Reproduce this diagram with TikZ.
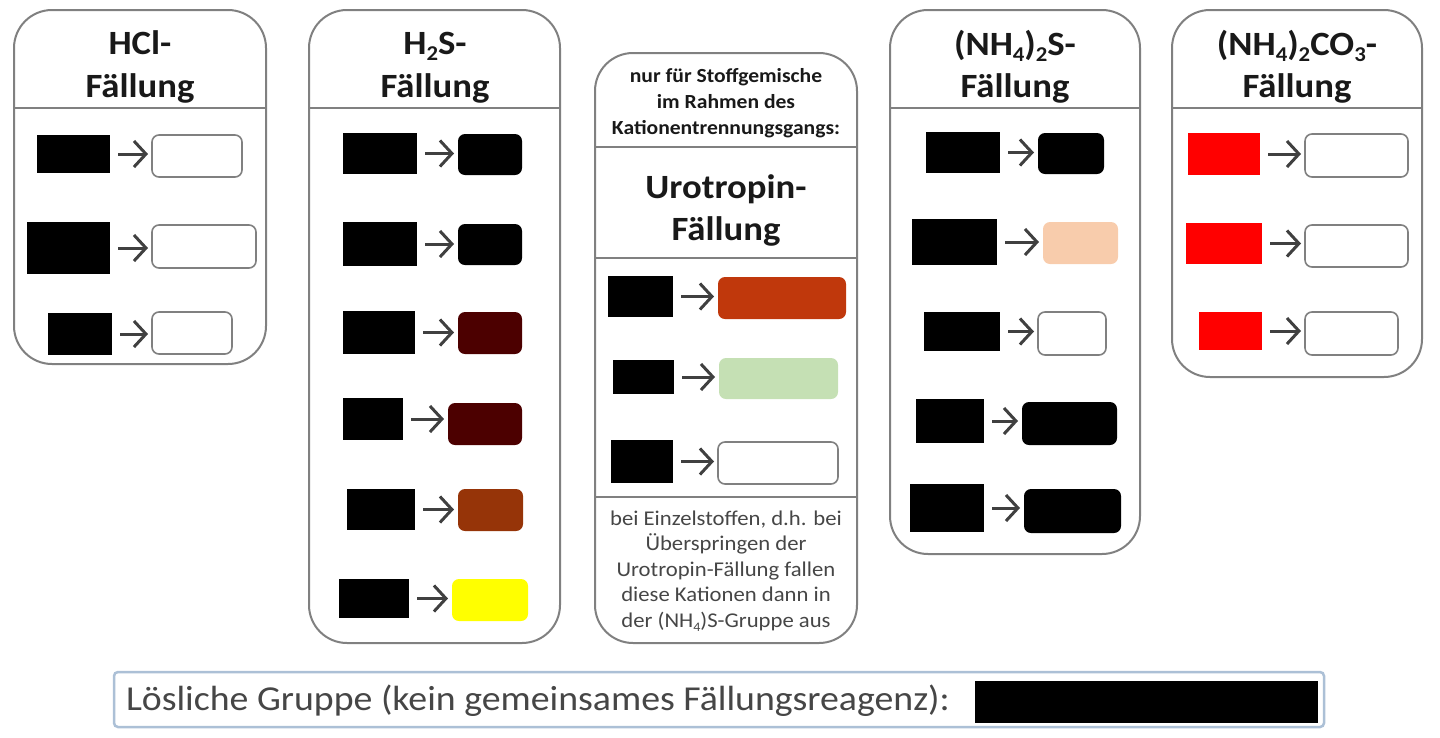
\documentclass[tikz,border=0pt]{standalone}
\usepackage{fontspec}
\setmainfont{Carlito}[FakeStretch=1.08]
\usetikzlibrary{arrows.meta}
\definecolor{bordergray}{RGB}{128,128,128}
\definecolor{arrowgray}{RGB}{64,64,64}
\definecolor{txtdark}{RGB}{25,25,25}
\definecolor{txtgray}{RGB}{70,70,70}
\definecolor{maroon}{RGB}{76,0,0}
\definecolor{brownres}{RGB}{150,52,8}
\definecolor{yellowres}{RGB}{255,255,0}
\definecolor{orangered}{RGB}{192,56,12}
\definecolor{lightgreen}{RGB}{197,224,180}
\definecolor{peach}{RGB}{248,204,172}
\definecolor{redsrc}{RGB}{255,0,0}
\definecolor{barborder}{RGB}{172,192,214}
\newcommand\mybox[6]{\node[#2, minimum width={(#5-#3)*1pt}, minimum height={(#6-#4)*1pt}] (#1) at ({(#3+#5)/2},{(#4+#6)/2}) {};}
\newcommand\connect[2]{\draw[arr] (#1.east) -- (#1.east -| #2.west);}
\newcommand\chsub[1]{\raisebox{-0.2em}{\scalebox{0.62}{#1}}}
\tikzset{
  every node/.style={inner sep=0pt, outer sep=0pt},
  outerbox/.style={draw=bordergray, line width=2pt, rounded corners=38pt},
  divider/.style={draw=bordergray, line width=1.6pt},
  src/.style={fill=black},
  srcred/.style={fill=redsrc},
  res/.style={rounded corners=7pt, line width=1.6pt},
  reswhite/.style={res, draw=bordergray, fill=white},
  resfill/.style={res, fill=#1},
  arr/.style={draw=arrowgray, line width=3pt, -{Straight Barb[length=12pt, width=26pt]}, shorten <=8pt, shorten >=4pt},
  ttl/.style={anchor=base, text=txtdark, font=\bfseries\fontsize{34}{40}\selectfont},
  small/.style={anchor=base, text=txtdark, font=\bfseries\fontsize{20}{24}\selectfont},
  note/.style={anchor=base, text=txtgray, font=\fontsize{21}{25}\selectfont},
}
\begin{document}
\begin{tikzpicture}[x=1pt, y=-1pt]
\useasboundingbox (0,0) rectangle (1440,737);

% ---------------- HCl ----------------
\mybox{hcl}{outerbox}{14}{10}{266}{364}
\draw[divider] (14,108) -- (266,108);
\node[ttl] (hclT1) at (140,54) {HCl-};
\node[ttl] (hclT2) at (140,97) {Fällung};
\mybox{hclAs}{src}{37}{135}{110}{173}
\mybox{hclAr}{reswhite}{152}{135}{242}{177}
\connect{hclAs}{hclAr}
\mybox{hclBs}{src}{27}{222}{110}{274}
\mybox{hclBr}{reswhite}{152}{225}{256}{268}
\connect{hclBs}{hclBr}
\mybox{hclCs}{src}{48}{313}{112}{355}
\mybox{hclCr}{reswhite}{152}{312}{232}{354}
\connect{hclCs}{hclCr}

% ---------------- H2S ----------------
\mybox{hs}{outerbox}{309}{10}{560}{643}
\draw[divider] (309,108) -- (560,108);
\node[ttl] (hsT1) at (435,54) {H\chsub{2}S-};
\node[ttl] (hsT2) at (435,97) {Fällung};
\mybox{hsAs}{src}{343}{133}{417}{174}
\mybox{hsAr}{resfill=black}{458}{134}{522}{175}
\connect{hsAs}{hsAr}
\mybox{hsBs}{src}{343}{222}{417}{266}
\mybox{hsBr}{resfill=black}{458}{224}{522}{265}
\connect{hsBs}{hsBr}
\mybox{hsCs}{src}{343}{311}{415}{354}
\mybox{hsCr}{resfill=maroon}{458}{312}{522}{354}
\connect{hsCs}{hsCr}
\mybox{hsDs}{src}{343}{398}{403}{440}
\mybox{hsDr}{resfill=maroon}{448}{403}{522}{445}
\connect{hsDs}{hsDr}
\mybox{hsEs}{src}{347}{489}{415}{530}
\mybox{hsEr}{resfill=brownres}{458}{489}{523}{531}
\connect{hsEs}{hsEr}
\mybox{hsFs}{src}{339}{579}{409}{618}
\mybox{hsFr}{resfill=yellowres}{452}{579}{528}{621}
\connect{hsFs}{hsFr}

% ---------------- Urotropin ----------------
\mybox{ur}{outerbox}{595}{53}{857}{643}
\draw[divider] (595,147) -- (857,147);
\draw[divider] (595,258) -- (857,258);
\draw[divider] (595,497) -- (857,497);
\node[small] (urH1) at (726,82) {nur für Stoffgemische};
\node[small] (urH2) at (726,108) {im Rahmen des};
\node[small] (urH3) at (726,134) {Kationentrennungsgangs:};
\node[ttl] (urT1) at (726,198) {Urotropin-};
\node[ttl] (urT2) at (726,240) {Fällung};
\mybox{urAs}{src}{608}{276}{673}{317}
\mybox{urAr}{resfill=orangered}{718}{277}{846}{319}
\connect{urAs}{urAr}
\mybox{urBs}{src}{613}{360}{674}{394}
\mybox{urBr}{resfill=lightgreen}{719}{358}{838}{399}
\connect{urBs}{urBr}
\mybox{urCs}{src}{611}{440}{673}{483}
\mybox{urCr}{reswhite}{718}{442}{838}{484}
\connect{urCs}{urCr}
\node[note] (urN1) at (726,525) {bei Einzelstoffen, d.h. bei};
\node[note] (urN2) at (726,550.5) {Überspringen der};
\node[note] (urN3) at (726,576) {Urotropin-Fällung fallen};
\node[note] (urN4) at (726,601.5) {diese Kationen dann in};
\node[note] (urN5) at (726,627) {der (NH\chsub{4})S-Gruppe aus};

% ---------------- (NH4)2S ----------------
\mybox{as}{outerbox}{890}{10}{1140}{554}
\draw[divider] (890,108) -- (1140,108);
\node[ttl] (asT1) at (1015,55) {(NH\chsub{4})\chsub{2}S-};
\node[ttl] (asT2) at (1015,97) {Fällung};
\mybox{asAs}{src}{926}{132}{1000}{173}
\mybox{asAr}{resfill=black}{1038}{133}{1104}{174}
\connect{asAs}{asAr}
\mybox{asBs}{src}{912}{219}{997}{265}
\mybox{asBr}{resfill=peach}{1043}{222}{1118}{264}
\connect{asBs}{asBr}
\mybox{asCs}{src}{924}{312}{1000}{351}
\mybox{asCr}{reswhite}{1038}{312}{1106}{355}
\connect{asCs}{asCr}
\mybox{asDs}{src}{916}{399}{984}{443}
\mybox{asDr}{resfill=black}{1022}{402}{1117}{445}
\connect{asDs}{asDr}
\mybox{asEs}{src}{910}{484}{984}{532}
\mybox{asEr}{resfill=black}{1024}{489}{1121}{533}
\connect{asEs}{asEr}

% ---------------- (NH4)2CO3 ----------------
\mybox{ac}{outerbox}{1172}{10}{1422}{377}
\draw[divider] (1172,108) -- (1422,108);
\node[ttl] (acT1) at (1297,55) {(NH\chsub{4})\chsub{2}CO\chsub{3}-};
\node[ttl] (acT2) at (1297,97) {Fällung};
\mybox{acAs}{srcred}{1188}{133}{1260}{175}
\mybox{acAr}{reswhite}{1305}{134}{1408}{177}
\connect{acAs}{acAr}
\mybox{acBs}{srcred}{1186}{223}{1262}{264}
\mybox{acBr}{reswhite}{1305}{225}{1408}{267}
\connect{acBs}{acBr}
\mybox{acCs}{srcred}{1199}{312}{1262}{350}
\mybox{acCr}{reswhite}{1305}{312}{1398}{355}
\connect{acCs}{acCr}

% ---------------- bottom bar ----------------
\mybox{bar}{draw=barborder, line width=2.5pt, rounded corners=4pt, fill=white}{114}{672}{1324}{727}
\node[anchor=base west, text=txtgray, font=\fontsize{35}{38}\selectfont] (barT) at (126,710) {Lösliche Gruppe (kein gemeinsames Fällungsreagenz):};
\mybox{barK}{src}{975}{681}{1318}{723}
\end{tikzpicture}
\end{document}
